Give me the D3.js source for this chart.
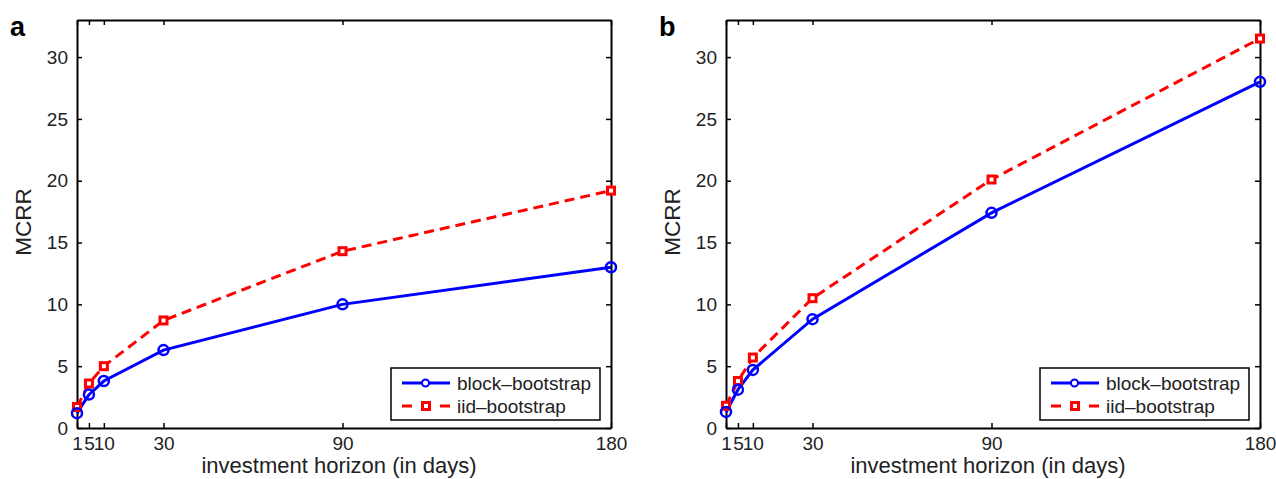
<!DOCTYPE html>
<html>
<head>
<meta charset="utf-8">
<script src="https://cdn.jsdelivr.net/npm/d3@7"></script>
<style>
  body { margin: 0; background: #fff; }
  text { font-family: "Liberation Sans", Arial, sans-serif; }
</style>
</head>
<body>
<div id="chart"></div>
<script>
// horizons and MCRR values
var horizons = [1, 5, 10, 30, 90, 180]
var xTicks = [1, 5, 10, 30, 90, 180]
var yTicks = [0, 5, 10, 15, 20, 25, 30]
var seriesNames = ["block\u2013bootstrap", "iid\u2013bootstrap"]

var blockA = [1.2, 2.7, 3.8, 6.3, 10.0, 13.0]
var iidA = [1.7, 3.6, 5.0, 8.7, 14.3, 19.2]
var blockB = [1.3, 3.1, 4.7, 8.8, 17.4, 28.0]
var iidB = [1.8, 3.8, 5.7, 10.5, 20.1, 31.5]

var W = 1276, H = 479

var svg = d3.select("#chart")
    .append("svg")
    .attr("width", W)
    .attr("height", H)

function panel(left, letter, block, iid) {
    var width = 534, height = 408, top = 20
    var g = svg.append("g")
        .attr("transform", "translate(" + left + "," + top + ")")

    var x = d3.scaleLinear().domain([1, 180]).range([0, width])
    var y = d3.scaleLinear().domain([0, 33]).range([height, 0])

    // axes with inward ticks, mirrored on top/right
    g.append("g")
        .attr("transform", "translate(0," + height + ")")
        .call(d3.axisBottom(x).tickValues(xTicks).tickSizeInner(-5).tickSizeOuter(0).tickPadding(9))
    g.append("g")
        .call(d3.axisLeft(y).tickValues(yTicks).tickSizeInner(-5).tickSizeOuter(0).tickPadding(9))
    g.append("g")
        .call(d3.axisTop(x).tickValues(xTicks).tickSizeInner(-5).tickSizeOuter(0).tickFormat(""))
    g.append("g")
        .attr("transform", "translate(" + width + ",0)")
        .call(d3.axisRight(y).tickValues(yTicks).tickSizeInner(-5).tickSizeOuter(0).tickFormat(""))

    g.selectAll(".domain").attr("stroke", "#000").attr("stroke-width", 2)
    g.selectAll(".tick line").attr("stroke", "#000").attr("stroke-width", 1.5)
    g.selectAll(".tick text")
        .style("font-size", "19px")
        .attr("fill", "#222")

    var line = d3.line()
        .x(function (d, i) { return x(horizons[i]) })
        .y(function (d) { return y(d) })

    // iid first (under), then block
    g.append("path")
        .datum(iid)
        .attr("d", line)
        .attr("fill", "none")
        .attr("stroke", "#ff0000")
        .attr("stroke-width", 3)
        .attr("stroke-dasharray", "10,6")

    g.append("path")
        .datum(block)
        .attr("d", line)
        .attr("fill", "none")
        .attr("stroke", "#0000ff")
        .attr("stroke-width", 3)

    g.selectAll(".sq")
        .data(iid)
        .enter()
        .append("rect")
        .attr("x", function (d, i) { return x(horizons[i]) - 3.5 })
        .attr("y", function (d) { return y(d) - 3.5 })
        .attr("width", 7)
        .attr("height", 7)
        .attr("fill", "#fff")
        .attr("stroke", "#ff0000")
        .attr("stroke-width", 3)

    g.selectAll(".circ")
        .data(block)
        .enter()
        .append("circle")
        .attr("cx", function (d, i) { return x(horizons[i]) })
        .attr("cy", function (d) { return y(d) })
        .attr("r", 5)
        .attr("fill", "none")
        .attr("stroke", "#0000ff")
        .attr("stroke-width", 2.5)

    // legend
    var lg = g.append("g").attr("transform", "translate(" + (width - 220) + "," + (height - 60) + ")")
    lg.append("rect")
        .attr("width", 209).attr("height", 52)
        .attr("fill", "#fff").attr("stroke", "#000").attr("stroke-width", 1.5)
    lg.append("line").attr("x1", 11).attr("x2", 59).attr("y1", 15).attr("y2", 15)
        .attr("stroke", "#0000ff").attr("stroke-width", 3)
    lg.append("circle").attr("cx", 34.5).attr("cy", 15).attr("r", 3.5)
        .attr("fill", "#fff").attr("stroke", "#0000ff").attr("stroke-width", 2)
    lg.append("line").attr("x1", 11).attr("x2", 59).attr("y1", 38).attr("y2", 38)
        .attr("stroke", "#ff0000").attr("stroke-width", 3).attr("stroke-dasharray", "10,28")
    lg.append("rect").attr("x", 31.5).attr("y", 34.5).attr("width", 7).attr("height", 7)
        .attr("fill", "#fff").attr("stroke", "#ff0000").attr("stroke-width", 3)
    lg.selectAll(".lt")
        .data(seriesNames)
        .enter()
        .append("text")
        .attr("x", 66)
        .attr("y", function (d, i) { return 15 + i * 23 })
        .attr("dy", "0.35em")
        .style("font-size", "19px")
        .attr("fill", "#222")
        .text(function (d) { return d })

    // axis labels
    g.append("text")
        .attr("x", width / 2 - 5)
        .attr("y", height + 45)
        .attr("text-anchor", "middle")
        .style("font-size", "22px")
        .attr("fill", "#222")
        .text("investment horizon (in days)")
    g.append("text")
        .attr("transform", "translate(" + (-46) + "," + (height / 2 - 2) + ") rotate(-90)")
        .attr("text-anchor", "middle")
        .style("font-size", "22.5px")
        .attr("fill", "#222")
        .text("MCRR")

    // panel letter
    svg.append("text")
        .attr("x", left - 67)
        .attr("y", 36)
        .style("font-size", "27px")
        .style("font-weight", "bold")
        .attr("fill", "#000")
        .text(letter)
}

panel(77, "a", blockA, iidA)
panel(726, "b", blockB, iidB)
</script>
</body>
</html>
